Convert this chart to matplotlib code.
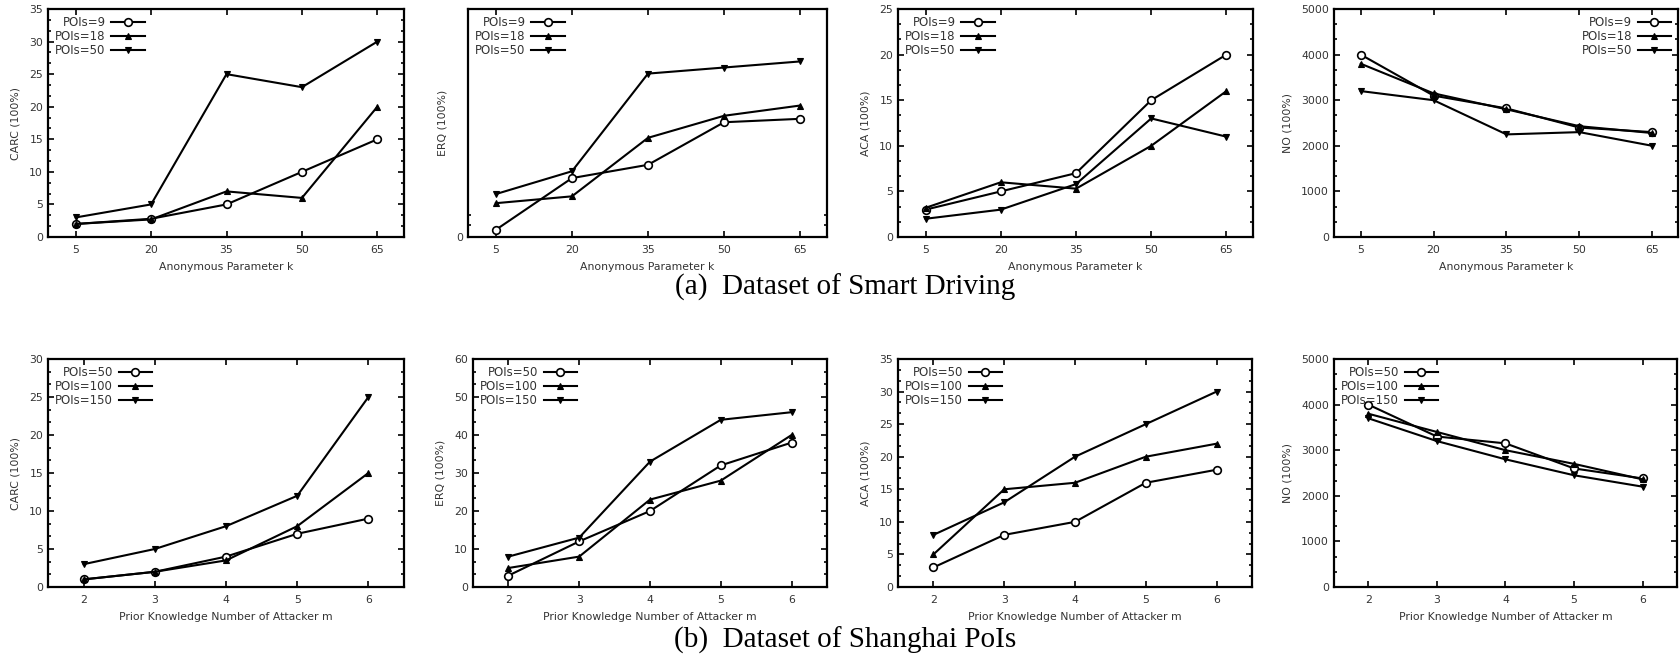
import matplotlib
matplotlib.use('Agg')
import matplotlib.pyplot as plt
from matplotlib.ticker import AutoMinorLocator, FixedLocator, NullFormatter

plt.rcParams['font.family'] = ['DejaVu Sans']

# top row: anonymous parameter k
k_vals = [5, 20, 35, 50, 65]
top_labels = ['POIs=9', 'POIs=18', 'POIs=50']
carc_top = [[2, 2.8, 5, 10, 15], [2, 2.7, 7, 6, 20], [3, 5, 25, 23, 30]]
erq_top = [[1.9, 15.5, 19.0, 30.2, 31.1], [8.9, 10.7, 26.1, 31.9, 34.6], [11.3, 17.3, 43.0, 44.6, 46.2]]
aca_top = [[3, 5, 7, 15, 20], [3.2, 6, 5.3, 10, 16], [2, 3, 5.8, 13, 11]]
no_top = [[4000, 3100, 2820, 2400, 2300], [3800, 3150, 2800, 2430, 2280], [3200, 3000, 2250, 2300, 2000]]

# bottom row: prior knowledge m
m_vals = [2, 3, 4, 5, 6]
bot_labels = ['POIs=50', 'POIs=100', 'POIs=150']
carc_bot = [[1, 2, 4, 7, 9], [1, 2, 3.5, 8, 15], [3, 5, 8, 12, 25]]
erq_bot = [[3, 12, 20, 32, 38], [5, 8, 23, 28, 40], [8, 13, 33, 44, 46]]
aca_bot = [[3, 8, 10, 16, 18], [5, 15, 16, 20, 22], [8, 13, 20, 25, 30]]
no_bot = [[4000, 3300, 3150, 2600, 2380], [3800, 3400, 3000, 2700, 2360], [3700, 3200, 2800, 2450, 2200]]

W, H = 1681, 654
fig = plt.figure(figsize=(W / 100, H / 100), dpi=100)

markers = [dict(marker='o', mfc='white', ms=5.5, mew=1.2),
           dict(marker='^', mfc='black', ms=5, mew=0.8),
           dict(marker='v', mfc='black', ms=5, mew=0.8)]
txt = '#333333'


def panel(px, x, series, labels, ylabel, xlabel, ylim, yticks, xlim, legend_loc, minor=3):
    l, t, r, b = px
    ax = fig.add_axes([l / W, 1 - b / H, (r - l) / W, (b - t) / H])
    for ys, lab, mk in zip(series, labels, markers):
        ax.plot(x, ys, color='black', lw=1.5, label=lab, mec='black', **mk)
    ax.set_xlim(*xlim)
    ax.set_ylim(*ylim)
    ax.set_xticks(x)
    ax.set_yticks(yticks)
    if minor:
        ax.yaxis.set_minor_locator(AutoMinorLocator(minor))
    ax.tick_params(which='both', direction='in', top=True, right=True,
                   labelsize=7.8, labelcolor=txt, width=1.2)
    ax.tick_params(which='major', length=4)
    ax.tick_params(which='minor', length=2.5)
    ax.tick_params(axis='x', pad=6)
    for s in ax.spines.values():
        s.set_linewidth(1.6)
    ax.set_ylabel(ylabel, fontsize=7.8, color=txt, labelpad=6)
    ax.set_xlabel(xlabel, fontsize=7.8, color=txt, labelpad=5)
    leg = ax.legend(loc=legend_loc, frameon=False, markerfirst=False, fontsize=8.5,
                    handlelength=2.8, handletextpad=0.5, labelspacing=0.1,
                    borderaxespad=0.3, borderpad=0.3)
    for tx in leg.get_texts():
        tx.set_color(txt)
    return ax


kx = (-0.5, 70.3)
mx = (1.5, 6.5)
xk = 'Anonymous Parameter k'
xm = 'Prior Knowledge Number of Attacker m'

panel((48, 9, 404, 237), k_vals, carc_top, top_labels, 'CARC (100%)', xk,
      (0, 35), range(0, 36, 5), kx, 'upper left')
ax2 = panel((468, 9, 827, 237), k_vals, erq_top, top_labels, 'ERQ (100%)', xk,
            (0, 60), [0], kx, 'upper left', minor=0)
ax2.yaxis.set_minor_locator(FixedLocator([3.2, 5.8]))
ax2.yaxis.set_minor_formatter(NullFormatter())
panel((898, 9, 1253, 237), k_vals, aca_top, top_labels, 'ACA (100%)', xk,
      (0, 25), range(0, 26, 5), kx, 'upper left')
panel((1334, 9, 1678, 237), k_vals, no_top, top_labels, 'NO (100%)', xk,
      (0, 5000), range(0, 5001, 1000), kx, 'upper right')

panel((48, 359, 404, 587), m_vals, carc_bot, bot_labels, 'CARC (100%)', xm,
      (0, 30), range(0, 31, 5), mx, 'upper left')
panel((473, 359, 827, 587), m_vals, erq_bot, bot_labels, 'ERQ (100%)', xm,
      (0, 60), range(0, 61, 10), mx, 'upper left')
panel((898, 359, 1252, 587), m_vals, aca_bot, bot_labels, 'ACA (100%)', xm,
      (0, 35), range(0, 36, 5), mx, 'upper left')
panel((1334, 359, 1677, 587), m_vals, no_bot, bot_labels, 'NO (100%)', xm,
      (0, 5000), range(0, 5001, 1000), mx, 'upper left')

fig.text(0.503, 1 - 287 / H, '(a)  Dataset of Smart Driving', ha='center', va='center',
         fontsize=21, family='Liberation Serif')
fig.text(0.503, 1 - 640 / H, '(b)  Dataset of Shanghai PoIs', ha='center', va='center',
         fontsize=21, family='Liberation Serif')

fig.savefig('out.png', dpi=100)
